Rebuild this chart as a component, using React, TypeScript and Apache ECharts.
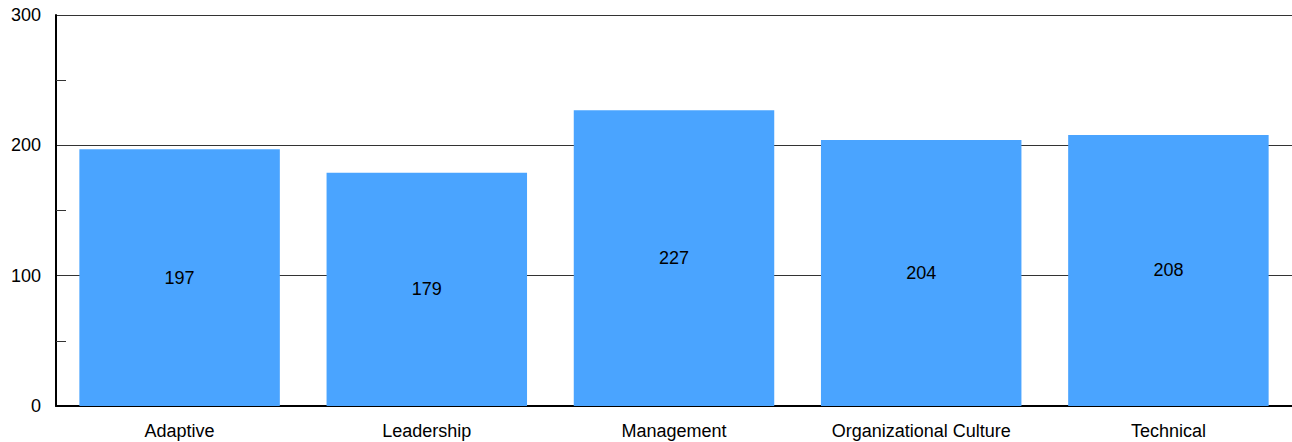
import React, { useEffect, useRef } from "react";
import * as echarts from "echarts";

const categories = ["Adaptive", "Leadership", "Management", "Organizational Culture", "Technical"];
const values = [197, 179, 227, 204, 208];

export default function App() {
  const ref = useRef<HTMLDivElement>(null);
  useEffect(() => {
    document.body.style.margin = "0";
    const chart = echarts.init(ref.current!, null, { renderer: "svg" });
    const font = "'Liberation Sans', Arial, sans-serif";
    chart.setOption({
      animation: false,
      grid: { left: 56, right: -3, top: 15, bottom: 36, containLabel: false },
      xAxis: {
        type: "category",
        data: categories,
        axisLine: { show: true, lineStyle: { color: "#000", width: 2 } },
        axisTick: { show: false },
        axisLabel: { color: "#000", fontSize: 18, fontFamily: font, margin: 16 },
      },
      yAxis: {
        type: "value",
        min: 0,
        max: 300,
        interval: 100,
        axisLine: { show: true, lineStyle: { color: "#000", width: 2 } },
        axisTick: { show: false, inside: true },
        minorTick: { show: true, splitNumber: 2, length: 10, lineStyle: { color: "#333", width: 1 } },
        splitLine: { show: true, lineStyle: { color: "#333", width: 1 } },
        axisLabel: { color: "#000", fontSize: 18, fontFamily: font, margin: 15 },
      },
      series: [
        {
          type: "bar",
          data: values,
          barCategoryGap: "18.9%",
          itemStyle: { color: "#4AA4FF" },
          label: { show: true, position: "inside", color: "#000", fontSize: 18, fontFamily: font },
        },
      ],
    });
    return () => chart.dispose();
  }, []);
  return <div ref={ref} style={{ width: 1292, height: 442 }} />;
}
